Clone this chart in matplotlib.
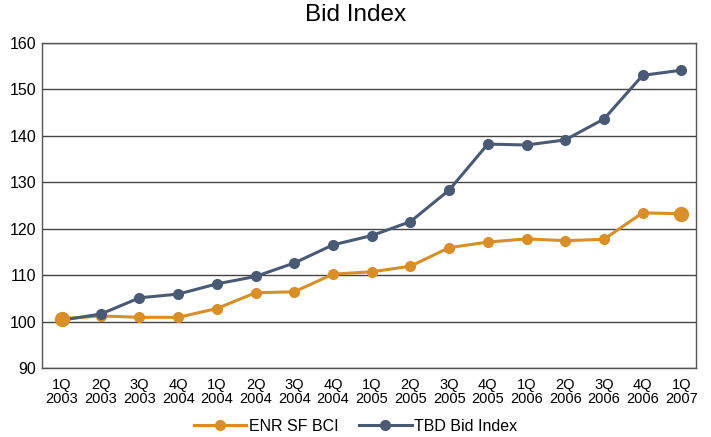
import numpy as np
import matplotlib
matplotlib.use("Agg")
import matplotlib.pyplot as plt

plt.rcParams['font.family'] = ['Liberation Sans', 'DejaVu Sans']

quarters = ['1Q\n2003', '2Q\n2003', '3Q\n2003', '4Q\n2004', '1Q\n2004', '2Q\n2004',
            '3Q\n2004', '4Q\n2004', '1Q\n2005', '2Q\n2005', '3Q\n2005', '4Q\n2005',
            '1Q\n2006', '2Q\n2006', '3Q\n2006', '4Q\n2006', '1Q\n2007']
enr_bci = [100.6, 101.2, 100.9, 100.9, 102.8, 106.2, 106.4, 110.2, 110.7, 111.9,
           115.9, 117.1, 117.8, 117.4, 117.7, 123.4, 123.2]
tbd_bid = [100.3, 101.6, 105.1, 105.9, 108.1, 109.7, 112.6, 116.5, 118.5, 121.5,
           128.3, 138.2, 138.0, 139.1, 143.6, 153.0, 154.1]

orange = '#D98F26'
navy = '#4A5A75'

fig = plt.figure(figsize=(7.11, 4.37), dpi=100)
ax = fig.add_axes([0.059, 0.158, 0.92, 0.744])

x = np.arange(len(quarters))
ax.plot(x, enr_bci, color=orange, lw=2.2, marker='o', ms=7, label='ENR SF BCI', zorder=3)
ax.plot(x, tbd_bid, color=navy, lw=2.2, marker='o', ms=7, label='TBD Bid Index', zorder=3)
# bigger end markers on the orange series
ax.plot([x[0], x[-1]], [enr_bci[0], enr_bci[-1]], 'o', color=orange, ms=10, zorder=4)

ax.set_xlim(-0.52, 16.38)
ax.set_ylim(90, 160)
ax.set_yticks(np.arange(90, 161, 10))
ax.set_xticks(x)
ax.set_xticklabels(quarters, fontsize=10.5, linespacing=1.05)
ax.tick_params(axis='y', labelsize=11.5, length=0, pad=4)
ax.tick_params(axis='x', length=0, pad=7)
ax.yaxis.grid(True, color='#444444', lw=1.0)
ax.set_axisbelow(True)
for s in ax.spines.values():
    s.set_color('#555555')
    s.set_linewidth(1.0)

fig.suptitle('Bid Index', fontsize=17.5, y=0.99)
fig.legend(loc='lower center', ncol=2, frameon=False, fontsize=11.5,
           bbox_to_anchor=(0.5, -0.025), handlelength=3.3, handletextpad=0.15,
           columnspacing=1.3)

fig.savefig('out.png', dpi=100)
